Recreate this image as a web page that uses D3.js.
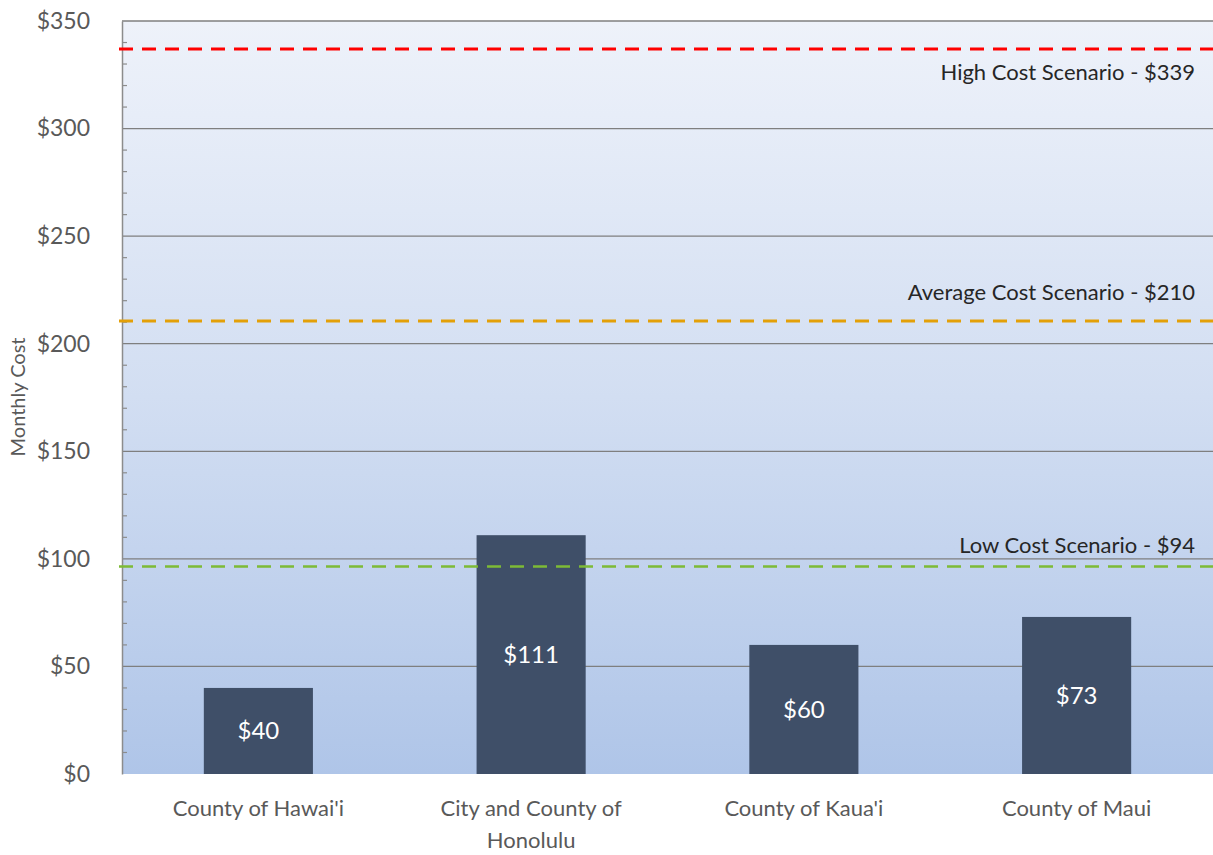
<!DOCTYPE html>
<html><head><meta charset="utf-8">
<script src="https://cdn.jsdelivr.net/npm/d3@7"></script>
<style>
html,body{margin:0;padding:0;background:#fff;}
svg{display:block;font-family:Lato,"Open Sans",sans-serif;}
</style></head>
<body><svg id="chart" width="1213" height="855"></svg>
<script>
const categories = [["County of Hawai'i"], ["City and County of", "Honolulu"], ["County of Kaua'i"], ["County of Maui"]];
const values = [40, 111, 60, 73];
const valueLabels = ["$40", "$111", "$60", "$73"];
const yTicks = [0, 50, 100, 150, 200, 250, 300, 350];
const scenarioNames = ["High Cost Scenario - $339", "Average Cost Scenario - $210", "Low Cost Scenario - $94"];
const scenarioLineValues = [337, 210.5, 96.5];
const scenarioColors = ["#ff0000", "#e3a008", "#7dbb36"];

const svg = d3.select("#chart");
const m = {left: 122, right: 0, top: 21, bottom: 81};
const W = 1213, H = 855;
const x = d3.scaleBand().domain(d3.range(categories.length)).range([m.left, W - m.right]).paddingInner(0.6).paddingOuter(0.3);
const y = d3.scaleLinear().domain([0, 350]).range([H - m.bottom, m.top]);

const defs = svg.append("defs");
const g = defs.append("linearGradient").attr("id", "bg").attr("x1", 0).attr("y1", 0).attr("x2", 0).attr("y2", 1);
g.append("stop").attr("offset", "0%").attr("stop-color", "#eef2fa");
g.append("stop").attr("offset", "50%").attr("stop-color", "#d2def2");
g.append("stop").attr("offset", "100%").attr("stop-color", "#afc5e8");

svg.append("rect").attr("x", m.left).attr("y", y(350)).attr("width", W - m.right - m.left).attr("height", y(0) - y(350)).attr("fill", "url(#bg)");

// gridlines
svg.append("g").selectAll("line").data(yTicks.filter(d => d > 0)).join("line")
  .attr("x1", m.left).attr("x2", W - m.right).attr("y1", d => y(d)).attr("y2", d => y(d))
  .attr("stroke", "#7f7f7f").attr("stroke-width", 1.3);

// y axis
const yAxis = d3.axisLeft(y).tickValues(yTicks).tickFormat(d => "$" + d).tickSize(0).tickPadding(32);
const ya = svg.append("g").attr("transform", `translate(${m.left},0)`).call(yAxis);
ya.select(".domain").attr("stroke", "#8c8c8c").attr("stroke-width", 1.5);
ya.selectAll("text").attr("font-size", 23).attr("fill", "#595959").attr("font-family", "Lato, sans-serif");
// minor ticks
svg.append("g").selectAll("line").data(d3.range(0, 351, 10).filter(d => d % 50 !== 0)).join("line")
  .attr("x1", m.left).attr("x2", m.left + 5).attr("y1", d => y(d)).attr("y2", d => y(d))
  .attr("stroke", "#8c8c8c").attr("stroke-width", 1.2);

// bars
svg.append("g").selectAll("rect").data(values).join("rect")
  .attr("x", (d, i) => x(i)).attr("width", x.bandwidth())
  .attr("y", d => y(d)).attr("height", d => y(0) - y(d))
  .attr("fill", "#3f4f68");

svg.append("g").selectAll("text").data(values).join("text")
  .attr("x", (d, i) => x(i) + x.bandwidth() / 2)
  .attr("y", d => (y(d) + y(0)) / 2).attr("dy", "0.35em")
  .attr("text-anchor", "middle").attr("fill", "#ffffff").attr("font-size", 24)
  .text((d, i) => valueLabels[i]);

// scenario lines
svg.append("g").selectAll("line").data(scenarioLineValues).join("line")
  .attr("x1", m.left - 3).attr("x2", W).attr("y1", d => y(d)).attr("y2", d => y(d))
  .attr("stroke", (d, i) => scenarioColors[i]).attr("stroke-width", (d, i) => i === 2 ? 2.5 : 3)
  .attr("stroke-dasharray", "14 9");

const labOffsets = [23, -29, -21];
svg.append("g").selectAll("text").data(scenarioLineValues).join("text")
  .attr("x", 1195).attr("y", (d, i) => y(d) + labOffsets[i]).attr("dy", "0.35em")
  .attr("text-anchor", "end").attr("fill", "#262626").attr("font-size", 22)
  .text((d, i) => scenarioNames[i]);

// x labels
const xl = svg.append("g").selectAll("text").data(categories).join("text")
  .attr("x", (d, i) => x(i) + x.bandwidth() / 2).attr("y", 808)
  .attr("text-anchor", "middle").attr("fill", "#595959").attr("font-size", 22);
xl.selectAll("tspan").data(d => d).join("tspan")
  .attr("x", function () { return d3.select(this.parentNode).attr("x"); })
  .attr("dy", (d, j) => j === 0 ? "0.35em" : "1.45em").text(d => d);

// y title
svg.append("text").attr("transform", "translate(18,397) rotate(-90)").attr("text-anchor", "middle")
  .attr("dy", "0.35em").attr("fill", "#595959").attr("font-size", 20).text("Monthly Cost");
</script></body></html>
